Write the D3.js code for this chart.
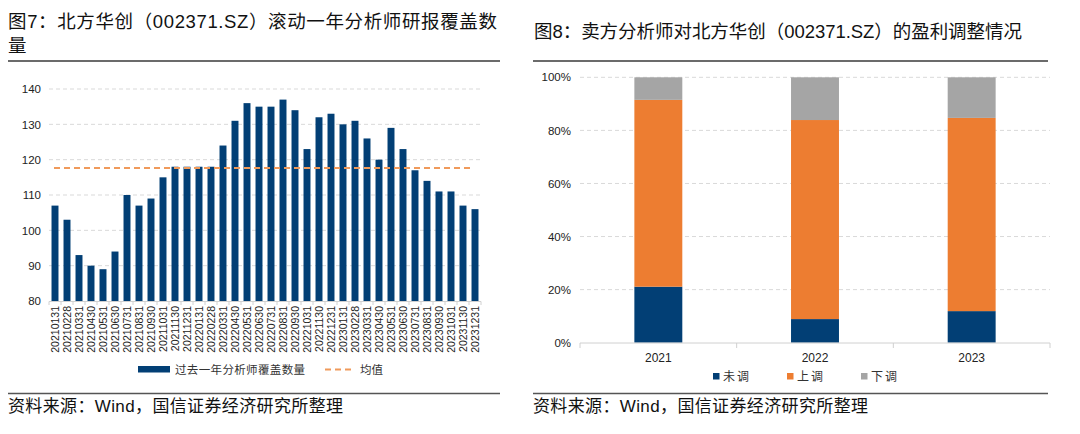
<!DOCTYPE html>
<html>
<head>
<meta charset="utf-8">
<script src="https://cdn.jsdelivr.net/npm/d3@7/dist/d3.min.js"></script>
<style>
html,body{margin:0;padding:0;background:#fff;}
svg{display:block;}
text{font-family:"Liberation Sans","Noto Sans CJK SC",Arial,sans-serif;}
</style>
</head>
<body>
<svg id="chart" width="1080" height="434"></svg>
<script>
// ---------- Data: left chart ----------
const dates = ["20210131","20210228","20210331","20210430","20210531","20210630","20210731","20210831","20210930","20211031","20211130","20211231",
"20220131","20220228","20220331","20220430","20220531","20220630","20220731","20220831","20220930","20221031","20221130","20221231",
"20230131","20230228","20230331","20230430","20230531","20230630","20230731","20230831","20230930","20231031","20231130","20231231"];
const coverage = [107,103,93,90,89,94,110,107,109,115,118,118,118,118,124,131,136,135,135,137,134,123,132,133,130,131,126,120,129,123,117,114,111,111,107,106];
const leftTicks = [80,90,100,110,120,130,140];
const leftSeriesName = "过去一年分析师覆盖数量";
const meanName = "均值";

// ---------- Data: right chart ----------
const years = ["2021","2022","2023"];
const unchanged = [21.1, 8.9, 11.9];   // 未调
const upgraded  = [70.4, 75.0, 72.8];  // 上调
const downgraded= [8.5, 16.1, 15.3];   // 下调
const rightSeries = ["未调","上调","下调"];
const rightTicks = [0,20,40,60,80,100];

const titleLeft1 = "图7：北方华创（002371.SZ）滚动一年分析师研报覆盖数";
const titleLeft2 = "量";
const titleRight = "图8：卖方分析师对北方华创（002371.SZ）的盈利调整情况";
const sourceText = "资料来源：Wind，国信证券经济研究所整理";

const BLUE = "#023F75", ORANGE = "#ED7D31", GRAY = "#A5A5A5", MEANC = "#F09A5B";
const svg = d3.select("#chart");

// ---------- Titles, rules, source ----------
svg.append("text").attr("x",8).attr("y",28).attr("font-size",18.5).attr("fill","#111")
  .attr("textLength",489).attr("lengthAdjust","spacing").text(titleLeft1);
svg.append("text").attr("x",8).attr("y",52).attr("font-size",18.5).attr("fill","#111").text(titleLeft2);
svg.append("text").attr("x",534).attr("y",38).attr("font-size",18.5).attr("fill","#111")
  .attr("textLength",488).attr("lengthAdjust","spacing").text(titleRight);

[[8,500],[533,1048]].forEach(([a,b])=>{
  svg.append("line").attr("x1",a).attr("x2",b).attr("y1",61).attr("y2",61).attr("stroke","#3a3a3a").attr("stroke-width",1.6);
  svg.append("line").attr("x1",a).attr("x2",b).attr("y1",393.5).attr("y2",393.5).attr("stroke","#555").attr("stroke-width",1.6);
  svg.append("text").attr("x",a).attr("y",412).attr("font-size",17).attr("fill","#111")
    .attr("textLength",335).attr("lengthAdjust","spacing").text(sourceText);
});

// ---------- Left chart ----------
const xL = d3.scaleBand().domain(dates).range([49,481]).paddingInner(0.42).paddingOuter(0.21);
const yL = d3.scaleLinear().domain([80,140]).range([301,89]);

const gL = svg.append("g");
gL.selectAll(".gl").data(leftTicks.filter(d=>d>80)).join("line")
  .attr("x1",49).attr("x2",481).attr("y1",d=>yL(d)).attr("y2",d=>yL(d))
  .attr("stroke","#d9d9d9").attr("stroke-width",1).attr("stroke-dasharray","4,3");
const yAxisL = d3.axisLeft(yL).tickValues(leftTicks).tickSize(0).tickPadding(0);
const yAxG = gL.append("g").attr("transform","translate(41,0)").call(yAxisL);
yAxG.select(".domain").remove();
yAxG.selectAll("text").attr("font-size",11.5).attr("fill","#222").attr("font-family","Liberation Sans, Arial, sans-serif");
gL.selectAll(".bar").data(coverage).join("rect")
  .attr("x",(d,i)=>xL(dates[i])).attr("width",xL.bandwidth())
  .attr("y",d=>yL(d)).attr("height",d=>yL(80)-yL(d)).attr("fill",BLUE);
gL.append("line").attr("x1",49).attr("x2",481).attr("y1",301.5).attr("y2",301.5).attr("stroke","#d0d0d0").attr("stroke-width",1);
const bounds = d3.range(dates.length+1).map(i=>49 + i*xL.step());
gL.selectAll(".tk").data(bounds).join("line")
  .attr("x1",d=>d).attr("x2",d=>d).attr("y1",301.5).attr("y2",305).attr("stroke","#d0d0d0");
gL.selectAll(".xl").data(dates).join("text")
  .attr("transform",d=>`translate(${xL(d)+xL.bandwidth()/2+3.8},306) rotate(-90)`)
  .attr("text-anchor","end").attr("font-size",10.5).attr("fill","#222")
  .attr("font-family","Liberation Sans, Arial, sans-serif").text(d=>d);
const meanVal = d3.mean(coverage);
gL.append("line").attr("x1",xL(dates[0])+xL.bandwidth()/2-1).attr("x2",xL(dates[dates.length-1])+xL.bandwidth()/2-2)
  .attr("y1",yL(meanVal)).attr("y2",yL(meanVal))
  .attr("stroke",MEANC).attr("stroke-width",2).attr("stroke-dasharray","6,4");
gL.append("rect").attr("x",138).attr("y",366).attr("width",32).attr("height",6.5).attr("fill",BLUE);
gL.append("text").attr("x",175).attr("y",374).attr("font-size",11.5).attr("fill","#333")
  .attr("textLength",130).attr("lengthAdjust","spacing").text(leftSeriesName);
gL.append("line").attr("x1",325).attr("x2",353).attr("y1",369.5).attr("y2",369.5)
  .attr("stroke",MEANC).attr("stroke-width",2).attr("stroke-dasharray","6,4");
gL.append("text").attr("x",360).attr("y",374).attr("font-size",11.5).attr("fill","#333")
  .attr("textLength",23).attr("lengthAdjust","spacing").text(meanName);

// ---------- Right chart ----------
const xR = d3.scaleBand().domain(years).range([580,1050]).paddingInner(0.694).paddingOuter(0.347);
const yR = d3.scaleLinear().domain([0,100]).range([342.7,77.3]);
const gR = svg.append("g");
gR.selectAll(".gr").data(rightTicks.filter(d=>d>0)).join("line")
  .attr("x1",580).attr("x2",1050).attr("y1",d=>yR(d)).attr("y2",d=>yR(d))
  .attr("stroke","#d9d9d9").attr("stroke-width",1).attr("stroke-dasharray","4,3");
const yAxisR = d3.axisLeft(yR).tickValues(rightTicks).tickFormat(d=>d+"%").tickSize(0).tickPadding(0);
const yRG = gR.append("g").attr("transform","translate(571,0)").call(yAxisR);
yRG.select(".domain").remove();
yRG.selectAll("text").attr("font-size",11.5).attr("fill","#222").attr("font-family","Liberation Sans, Arial, sans-serif");

const rows = years.map((y,i)=>({year:y, "未调":unchanged[i], "上调":upgraded[i], "下调":downgraded[i]}));
const stack = d3.stack().keys(rightSeries)(rows);
const colorR = d3.scaleOrdinal().domain(rightSeries).range([BLUE,ORANGE,GRAY]);
gR.selectAll(".layer").data(stack).join("g").attr("fill",d=>colorR(d.key))
  .selectAll("rect").data(d=>d).join("rect")
  .attr("x",d=>xR(d.data.year)).attr("width",xR.bandwidth())
  .attr("y",d=>yR(d[1])).attr("height",d=>yR(d[0])-yR(d[1]));
gR.append("line").attr("x1",580).attr("x2",1050).attr("y1",343).attr("y2",343).attr("stroke","#d0d0d0");
const rb = d3.range(years.length+1).map(i=>580 + i*xR.step());
gR.selectAll(".tk").data(rb).join("line")
  .attr("x1",d=>d).attr("x2",d=>d).attr("y1",343).attr("y2",348).attr("stroke","#d0d0d0");
gR.selectAll(".xl").data(years).join("text")
  .attr("x",d=>xR(d)+xR.bandwidth()/2).attr("y",362).attr("text-anchor","middle")
  .attr("font-size",12).attr("fill","#222").attr("font-family","Liberation Sans, Arial, sans-serif").text(d=>d);
const legX = [713,787,861];
rightSeries.forEach((k,i)=>{
  gR.append("rect").attr("x",legX[i]).attr("y",373).attr("width",6.5).attr("height",6.5).attr("fill",colorR(k));
  gR.append("text").attr("x",legX[i]+10).attr("y",381).attr("font-size",12).attr("fill","#333")
    .attr("textLength",26).attr("lengthAdjust","spacing").text(k);
});
</script>
</body>
</html>
